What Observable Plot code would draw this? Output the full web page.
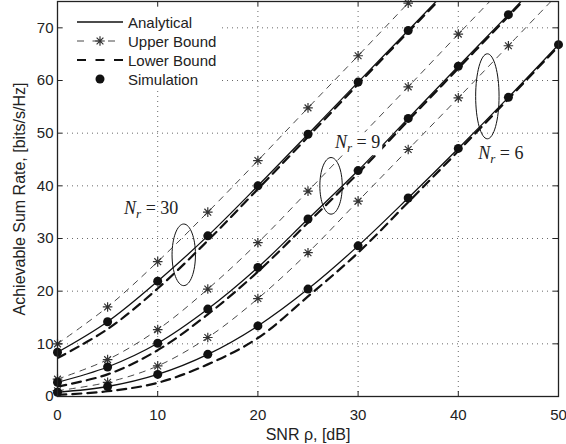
<!DOCTYPE html>
<html><head><meta charset="utf-8">
<script src="https://cdn.jsdelivr.net/npm/d3@7"></script>
<script src="https://cdn.jsdelivr.net/npm/@observablehq/plot@0.6"></script>
<style>body{margin:0;background:#fff} svg{display:block}</style>
</head><body><div id="chart"></div>
<script>
// ---- data ----
const snr = [0, 5, 10, 15, 20, 25, 30, 35, 40, 45, 50];
const xTicks = [0, 10, 20, 30, 40, 50];
const yTicks = [0, 10, 20, 30, 40, 50, 60, 70];
const groups = ["30", "9", "6"];
const analytical30 = [8.4, 14.2, 21.9, 30.5, 40.0, 49.8, 59.7, 69.5, 79.4, 89.4, 99.4];
const analytical9  = [2.7, 5.6, 10.1, 16.6, 24.5, 33.7, 42.9, 52.8, 62.7, 72.5, 82.5];
const analytical6  = [0.8, 1.9, 4.2, 8.0, 13.4, 20.4, 28.6, 37.7, 47.1, 56.8, 66.8];
const upper30 = [10.0, 17.0, 25.6, 35.0, 44.8, 54.8, 64.7, 74.7, 84.6, 94.6, 104.5];
const upper9  = [3.3, 7.0, 12.7, 20.4, 29.2, 39.0, 48.9, 58.8, 68.8, 78.7, 88.7];
const upper6  = [1.1, 2.7, 5.8, 11.2, 18.6, 27.3, 37.1, 46.9, 56.7, 66.6, 76.5];
const lower30 = [7.3, 12.8, 20.5, 29.6, 39.4, 49.3, 59.3, 69.2, 79.1, 89.1, 99.1];
const lower9  = [1.9, 4.2, 8.8, 15.6, 23.7, 33.0, 42.4, 52.4, 62.3, 72.2, 82.2];
const lower6  = [0.3, 1.0, 2.6, 6.1, 11.1, 19.0, 27.3, 36.9, 46.6, 56.5, 66.5];
const simulation30 = [8.4, 14.2, 21.9, 30.5, 40.0, 49.8, 59.7, 69.5, 79.4, 89.4, 99.4];
const simulation9  = [2.7, 5.6, 10.1, 16.6, 24.5, 33.7, 42.9, 52.8, 62.7, 72.5, 82.5];
const simulation6  = [0.8, 1.9, 4.2, 8.0, 13.4, 20.4, 28.6, 37.7, 47.1, 56.8, 66.8];
// annotation anchors (data coordinates)
const ellipseX = [12.6, 27.3, 42.9];
const ellipseY = [26.9, 40.0, 57.0];
const labelX = [9.4, 30.0, 44.3];
const labelY = [35.7, 48.2, 46.1];
const labelNum = ["30", "9", "6"];
const legendLabels = ["Analytical", "Upper Bound", "Lower Bound", "Simulation"];

// ---- tidy tables ----
const toRows = (arrs) => arrs.flatMap((a, gi) => a.map((v, i) => ({x: snr[i], y: v, g: groups[gi]})));
const analytical = toRows([analytical30, analytical9, analytical6]);
const upper = toRows([upper30, upper9, upper6]);
const lower = toRows([lower30, lower9, lower6]);
const simulation = toRows([simulation30, simulation9, simulation6]);
const ellipses = ellipseX.map((x, i) => ({x, y: ellipseY[i], i}));

// ---- symbols ----
const starSymbol = {draw(c, size) {
  const r = Math.sqrt(size / Math.PI), d = r * Math.SQRT1_2;
  c.moveTo(-r, 0); c.lineTo(r, 0); c.moveTo(0, -r); c.lineTo(0, r);
  c.moveTo(-d, -d); c.lineTo(d, d); c.moveTo(-d, d); c.lineTo(d, -d);
}};
function ellipseSymbol(rx, ry) {
  const k = 0.5523;
  return {draw(c) {
    c.moveTo(rx, 0);
    c.bezierCurveTo(rx, k * ry, k * rx, ry, 0, ry);
    c.bezierCurveTo(-k * rx, ry, -rx, k * ry, -rx, 0);
    c.bezierCurveTo(-rx, -k * ry, -k * rx, -ry, 0, -ry);
    c.bezierCurveTo(k * rx, -ry, rx, -k * ry, rx, 0);
    c.closePath();
  }};
}
const ellipseSizes = [[11.7, 30.8], [11.2, 28.3], [11.7, 42.5]];

const W = 566, H = 444, mL = 57, mR = 8, mT = 1, mB = 48;
const fw = W - mL - mR, fh = H - mT - mB;
const font = "'Liberation Sans', Arial, Helvetica, sans-serif";
const grid = {stroke: "#444", strokeOpacity: 1, strokeWidth: 0.8, strokeDasharray: "1,4"};

const plot = Plot.plot({
  width: W, height: H,
  marginLeft: mL, marginRight: mR, marginTop: mT, marginBottom: mB,
  style: {fontFamily: font, fontSize: "15px", color: "#222", background: "#fff"},
  x: {domain: [0, 50]},
  y: {domain: [0, 75]},
  marks: [
    Plot.gridX(xTicks, grid),
    Plot.gridY(yTicks, grid),
    Plot.line(upper, {x: "x", y: "y", z: "g", stroke: "#333", strokeWidth: 0.9, strokeDasharray: "6,6", curve: "catmull-rom", clip: true}),
    Plot.line(lower, {x: "x", y: "y", z: "g", stroke: "#111", strokeWidth: 2.2, strokeDasharray: "9,6", curve: "catmull-rom", clip: true}),
    Plot.line(analytical, {x: "x", y: "y", z: "g", stroke: "#111", strokeWidth: 1.3, curve: "catmull-rom", clip: true}),
    Plot.dot(upper, {x: "x", y: "y", symbol: starSymbol, r: 4.8, stroke: "#333", fill: "none", strokeWidth: 1.2, filter: d => d.y <= 76}),
    Plot.dot(simulation, {x: "x", y: "y", r: 4.5, fill: "#111", stroke: "none", filter: d => d.y <= 75}),
    ...ellipses.map((e, i) => Plot.dot([e], {x: "x", y: "y", symbol: ellipseSymbol(...ellipseSizes[i]), r: 5, stroke: "#111", fill: "none", strokeWidth: 1})),
    Plot.tickX(xTicks, {x: d => d, insetTop: fh - 5, stroke: "#222"}),
    Plot.tickX(xTicks, {x: d => d, insetBottom: fh - 5, stroke: "#222"}),
    Plot.tickY(yTicks, {y: d => d, insetLeft: fw - 5, stroke: "#222"}),
    Plot.tickY(yTicks, {y: d => d, insetRight: fw - 5, stroke: "#222"}),
    Plot.axisX(xTicks, {tickSize: 0, tickPadding: 13, fontSize: 15, label: null}),
    Plot.axisY(yTicks, {tickSize: 0, tickPadding: 4, fontSize: 15, label: null}),
    Plot.frame({stroke: "#222", strokeWidth: 1.3}),
    Plot.text(["SNR ρ, [dB]"], {frameAnchor: "bottom", dy: 38, fontSize: 16, fill: "#222", textAnchor: "middle", lineAnchor: "middle"}),
    Plot.text(["Achievable Sum Rate, [bits/s/Hz]"], {frameAnchor: "left", dx: -38, rotate: -90, fontSize: 16, fill: "#222", textAnchor: "middle", lineAnchor: "middle"})
  ]
});
document.getElementById("chart").appendChild(plot);

const svg = d3.select(plot);
const sx = plot.scale("x"), sy = plot.scale("y");

// ---- N_r labels ----
labelNum.forEach((n, i) => {
  const g = svg.append("g");
  const t = g.append("text")
    .attr("x", sx.apply(labelX[i])).attr("y", sy.apply(labelY[i]) + 6)
    .attr("text-anchor", "middle")
    .attr("font-family", "'Liberation Serif', 'DejaVu Serif', serif")
    .attr("font-size", 18).attr("fill", "#222");
  t.append("tspan").attr("font-style", "italic").text("N");
  t.append("tspan").attr("font-style", "italic").attr("font-size", 13).attr("dy", 4).text("r");
  t.append("tspan").attr("dy", -4).text(" = " + n);
  if (n === "9") {
    const b = t.node().getBBox();
    g.insert("rect", "text").attr("x", b.x - 2).attr("y", b.y).attr("width", b.width + 4).attr("height", b.height).attr("fill", "#fff");
  }
});

// ---- legend ----
const lg = svg.append("g").attr("font-family", font).attr("font-size", 15).attr("fill", "#222").attr("text-anchor", "start");
lg.append("rect").attr("x", 66).attr("y", 8).attr("width", 156).attr("height", 80).attr("fill", "#fff");
const rowsY = [22, 41, 60, 79];
legendLabels.forEach((lab, i) => {
  const y = rowsY[i];
  if (i === 0) lg.append("line").attr("x1", 77).attr("x2", 123).attr("y1", y).attr("y2", y).attr("stroke", "#111").attr("stroke-width", 1.3);
  if (i === 1) {
    lg.append("line").attr("x1", 77).attr("x2", 123).attr("y1", y).attr("y2", y).attr("stroke", "#333").attr("stroke-width", 0.9).attr("stroke-dasharray", "7,8.5");
    lg.append("path").attr("transform", `translate(100,${y})`).attr("d", d3.symbol(starSymbol, Math.PI * 4.8 * 4.8)()).attr("stroke", "#333").attr("stroke-width", 1.2).attr("fill", "none");
  }
  if (i === 2) lg.append("line").attr("x1", 77).attr("x2", 123).attr("y1", y).attr("y2", y).attr("stroke", "#111").attr("stroke-width", 2.2).attr("stroke-dasharray", "9,9.5");
  if (i === 3) lg.append("circle").attr("cx", 100).attr("cy", y).attr("r", 4.5).attr("fill", "#111");
  lg.append("text").attr("x", 128).attr("y", y + 5.5).attr("text-anchor", "start").text(lab);
});
</script></body></html>
